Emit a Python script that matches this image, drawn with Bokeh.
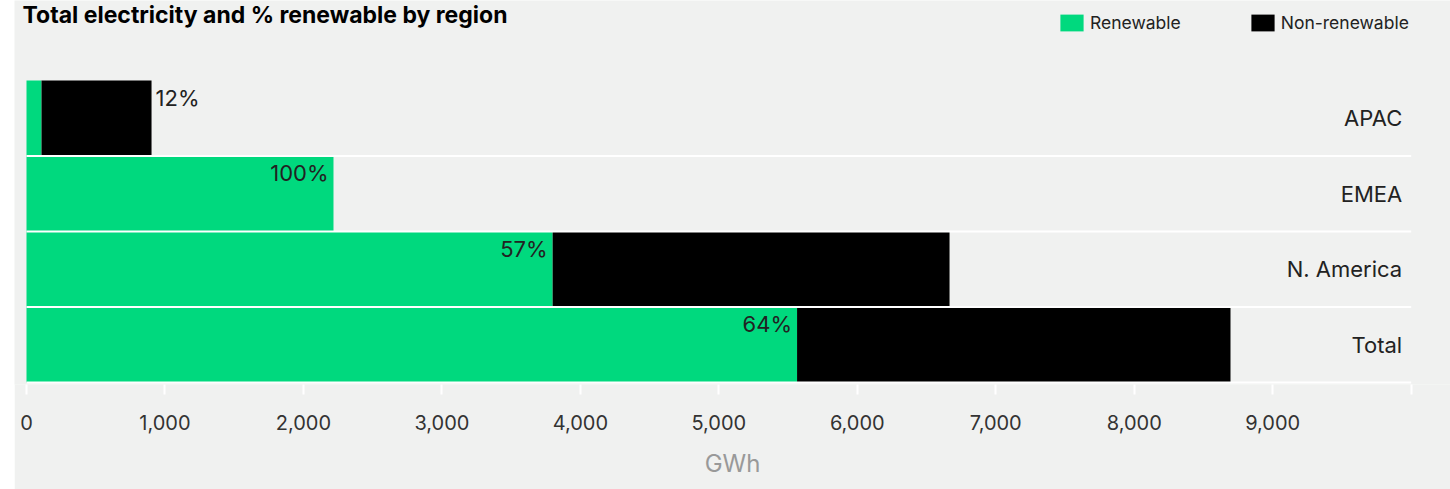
from bokeh.plotting import figure
from bokeh.models import (Range1d, FixedTicker, ColumnDataSource, Legend,
                          LegendItem, Label)
from bokeh.embed import file_html
from bokeh.resources import INLINE
from bokeh.core.properties import value

# ---- data ---------------------------------------------------------------
REGIONS = ["APAC", "EMEA", "N. America", "Total"]
TOTAL_GWH = [903, 2217, 6666, 8695]
RENEWABLE_PCT = [12, 100, 57, 64]

X_TICKS = [0, 1000, 2000, 3000, 4000, 5000, 6000, 7000, 8000, 9000, 10000]
X_TICK_LABELS = ["0", "1,000", "2,000", "3,000", "4,000", "5,000",
                 "6,000", "7,000", "8,000", "9,000", ""]

TITLE = "Total electricity and % renewable by region"
X_LABEL = "GWh"
SERIES = ["Renewable", "Non-renewable"]

# ---- style ---------------------------------------------------------------
GREEN = "#00d97e"
BLACK = "#000000"
BG = "#f0f1f0"
TEXT = "#222222"
FONT = "Inter"

# ---- derived values -----------------------------------------------------
renewable = [t * p / 100 for t, p in zip(TOTAL_GWH, RENEWABLE_PCT)]
non_renewable = [t - r for t, r in zip(TOTAL_GWH, renewable)]
n = len(REGIONS)
y_pos = [n - i - 0.5 for i in range(n)]          # first region on top
x_max = X_TICKS[-1]

# ---- geometry -----------------------------------------------------------
W, H = 1436, 489
LEFT_PAD = 12                    # px between frame edge and x = 0
AXIS_PX = 1384.7                 # px spanned by 0 .. x_max
ppx = AXIS_PX / x_max
BAND_PX = 75.5
BOTTOM = 105
frame_h = H - BOTTOM
x_start = -LEFT_PAD / ppx
x_end = (W - LEFT_PAD) / ppx
y_start = -2 / BAND_PX
y_end = y_start + frame_h / BAND_PX

p = figure(width=W, height=H, output_backend="svg", toolbar_location=None,
           x_range=Range1d(x_start, x_end), y_range=Range1d(y_start, y_end),
           min_border_left=0, min_border_right=0, min_border_top=0,
           min_border_bottom=BOTTOM, margin=(0, 0, 0, 14))
p.background_fill_color = BG
p.border_fill_color = BG
p.outline_line_color = None
p.grid.visible = False
p.yaxis.visible = False

src = ColumnDataSource(dict(region=REGIONS, y=y_pos, ren=renewable,
                            non=non_renewable, total=TOTAL_GWH))

r_ren = p.hbar(y="y", left=0, right="ren", height=1, source=src,
               fill_color=GREEN, line_color=None)
r_non = p.hbar(y="y", left="ren", right="total", height=1, source=src,
               fill_color=BLACK, line_color=None)

# white separators between regions and the baseline
seps = list(range(0, n))
p.segment(x0=[0] * len(seps), x1=[x_max] * len(seps), y0=seps, y1=seps,
          line_color="white", line_width=2)

# percentage labels: inside the green part when there is room, else after the bar
inside = [i for i in range(n) if renewable[i] >= 1000]
outside = [i for i in range(n) if renewable[i] < 1000]
lab_in = ColumnDataSource(dict(
    x=[renewable[i] for i in inside], y=[y_pos[i] + 0.5 for i in inside],
    t=[f"{RENEWABLE_PCT[i]}%" for i in inside]))
lab_out = ColumnDataSource(dict(
    x=[TOTAL_GWH[i] for i in outside], y=[y_pos[i] + 0.5 for i in outside],
    t=[f"{RENEWABLE_PCT[i]}%" for i in outside]))
common = dict(text="t", text_font=value(FONT), text_font_size="22px",
              text_color=TEXT, text_baseline="top", y_offset=4)
p.text(x="x", y="y", source=lab_in, text_align="right", x_offset=-5, **common)
p.text(x="x", y="y", source=lab_out, text_align="left", x_offset=4, **common)

# region names at the right end
p.text(x=[x_max] * n, y=y_pos, text=REGIONS, text_font=value(FONT),
       text_font_size="22px", text_color=TEXT, text_align="right",
       text_baseline="middle", x_offset=-9)

# x axis
ax = p.xaxis[0]
ax.ticker = FixedTicker(ticks=X_TICKS)
ax.major_label_overrides = {t: l for t, l in zip(X_TICKS, X_TICK_LABELS)}
ax.axis_line_color = None
ax.major_tick_line_color = "white"
ax.major_tick_line_width = 2
ax.major_tick_in = 0
ax.major_tick_out = 10
ax.minor_tick_line_color = None
ax.major_label_text_font = FONT
ax.major_label_text_font_size = "20px"
ax.major_label_text_color = "#333333"
ax.major_label_standoff = 20
ax.axis_label = X_LABEL
ax.axis_label_text_font = FONT
ax.axis_label_text_font_size = "24px"
ax.axis_label_text_font_style = "normal"
ax.axis_label_text_color = "#999999"
ax.axis_label_standoff = 16

# title
p.add_layout(Label(x=-4 / ppx, y=y_end, text=TITLE,
                   text_font=FONT, text_font_size="23px",
                   text_font_style="bold", text_color="#000000",
                   text_baseline="top", text_align="left"))

# legend
legend = Legend(items=[LegendItem(label=SERIES[0], renderers=[r_ren]),
                       LegendItem(label=SERIES[1], renderers=[r_non])],
                location=(1043, 351), orientation="horizontal")
legend.label_text_font = FONT
legend.label_text_font_size = "17.5px"
legend.label_text_color = TEXT
legend.glyph_width = 29
legend.glyph_height = 21
legend.label_height = 21
legend.label_standoff = 4
legend.spacing = 67
legend.padding = 0
legend.margin = 0
legend.border_line_color = None
legend.background_fill_alpha = 0
p.add_layout(legend)

open("out.html", "w").write(file_html(p, INLINE))
